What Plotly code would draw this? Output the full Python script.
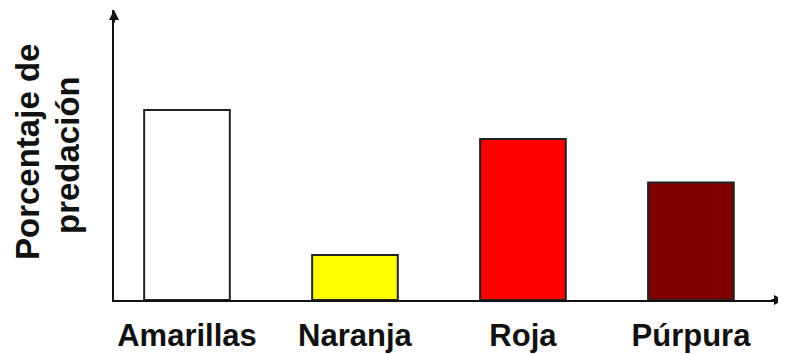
import plotly.graph_objects as go

categories = ["Amarillas", "Naranja", "Roja", "Púrpura"]
values = [65.5, 15.5, 55.5, 40.5]
colors = ["#FFFFFF", "#FFFF00", "#FF0000", "#7F0000"]
y_title_lines = ["Porcentaje de", "predación"]

FONT = "Liberation Sans, Arial, sans-serif"

fig = go.Figure(go.Bar(
    x=list(range(len(categories))), y=values,
    marker=dict(color=colors, line=dict(color="#222222", width=2)),
    width=0.51,
))

# page body has 8px default margin; plot area: x 114..784, y 10..300 in the window
PW, PH = 670, 290
fig.update_layout(
    width=778, height=347,
    margin=dict(l=106, r=2, t=2, b=55, autoexpand=False),
    paper_bgcolor="white", plot_bgcolor="white",
    showlegend=False,
    xaxis=dict(
        range=[-0.4345, 3.554], tickmode="array",
        tickvals=list(range(len(categories))), ticktext=categories,
        showgrid=False, zeroline=False, showline=True, linecolor="#111111", linewidth=2,
        ticks="", ticklabelstandoff=7, automargin=False,
        tickfont=dict(family=FONT, size=31, color="#111111", weight="bold"),
    ),
    yaxis=dict(
        range=[0, 100], showgrid=False, zeroline=False, showline=True, automargin=False,
        linecolor="#111111", linewidth=2, showticklabels=False, ticks="",
    ),
    annotations=[
        dict(x=0, y=1, xref="paper", yref="paper", ax=0, ay=14, axref="pixel", ayref="pixel",
             showarrow=True, arrowhead=2, arrowsize=1, arrowwidth=2, arrowcolor="#111111", text=""),
        dict(x=1, y=0, xref="paper", yref="paper", ax=-14, ay=0,
             showarrow=True, arrowhead=2, arrowsize=1, arrowwidth=2, arrowcolor="#111111", text=""),
        dict(x=(27 - 114) / PW, y=(300 - 152) / PH, xref="paper", yref="paper",
             text=y_title_lines[0], showarrow=False, textangle=-90, xanchor="center", yanchor="middle",
             font=dict(family=FONT, size=33, color="#111111", weight="bold")),
        dict(x=(67 - 114) / PW, y=(300 - 155) / PH, xref="paper", yref="paper",
             text=y_title_lines[1], showarrow=False, textangle=-90, xanchor="center", yanchor="middle",
             font=dict(family=FONT, size=33, color="#111111", weight="bold")),
    ],
)

fig.write_html("out.html")
